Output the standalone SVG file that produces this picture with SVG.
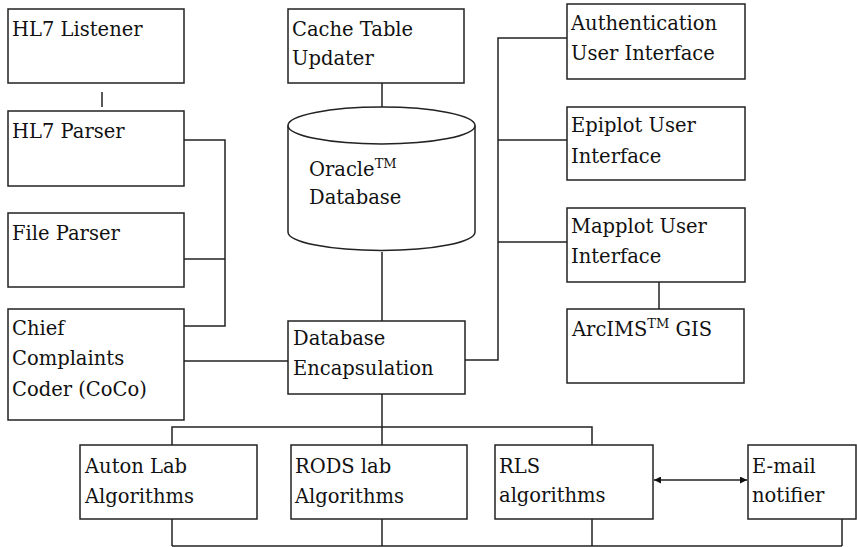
<svg xmlns="http://www.w3.org/2000/svg" width="857" height="547" viewBox="0 0 857 547">
<defs>
<style>
.box{fill:#fff;stroke:#222;stroke-width:1.5}
.ln{fill:none;stroke:#222;stroke-width:1.5}
.t text{font-family:'DejaVu Serif',serif;font-size:19.5px;fill:#111}
</style>
<marker id="ah" viewBox="0 0 10 10" refX="10" refY="5" markerWidth="7" markerHeight="7" markerUnits="userSpaceOnUse" orient="auto-start-reverse">
<path d="M0,0 L10,5 L0,10 z" fill="#111"/>
</marker>
</defs>
<rect width="857" height="547" fill="#fff"/>
<g id="connectors">
<line class="ln" x1="102" y1="92" x2="102" y2="107"/>
<polyline class="ln" points="184,140 225,140 225,326 184,326"/>
<line class="ln" x1="184" y1="259" x2="225" y2="259"/>
<line class="ln" x1="184" y1="361" x2="288" y2="361"/>
<line class="ln" x1="382" y1="83" x2="382" y2="107"/>
<line class="ln" x1="382" y1="252" x2="382" y2="321"/>
<polyline class="ln" points="465,360 498,360 498,38 567,38"/>
<line class="ln" x1="498" y1="140" x2="567" y2="140"/>
<line class="ln" x1="498" y1="242" x2="567" y2="242"/>
<line class="ln" x1="659" y1="282" x2="659" y2="309"/>
<line class="ln" x1="382" y1="394" x2="382" y2="445"/>
<polyline class="ln" points="172,445 172,427 592,427 592,445"/>
<line class="ln" x1="172" y1="546" x2="842" y2="546"/>
<line class="ln" x1="172" y1="519" x2="172" y2="546"/>
<line class="ln" x1="382" y1="519" x2="382" y2="546"/>
<line class="ln" x1="592" y1="519" x2="592" y2="546"/>
<line class="ln" x1="842" y1="519" x2="842" y2="546"/>
<line class="ln" x1="654" y1="480" x2="747" y2="480" marker-start="url(#ah)" marker-end="url(#ah)"/>
</g>
<g class="t">
<g id="hl7-listener"><rect class="box" x="8" y="9" width="176" height="74"/><text x="12" y="36">HL7 Listener</text></g>
<g id="hl7-parser"><rect class="box" x="8" y="111" width="176" height="75"/><text x="12" y="138">HL7 Parser</text></g>
<g id="file-parser"><rect class="box" x="8" y="213" width="176" height="74"/><text x="12" y="240">File Parser</text></g>
<g id="coco"><rect class="box" x="8" y="309" width="176" height="111"/><text x="12" y="335">Chief</text><text x="12" y="365">Complaints</text><text x="12" y="396">Coder (CoCo)</text></g>
<g id="cache-updater"><rect class="box" x="288" y="9" width="176" height="74"/><text x="292" y="36">Cache Table</text><text x="292" y="65">Updater</text></g>
<g id="oracle-db">
<path class="box" d="M288,125.5 L288,232 A93.5,18.5 0 0 0 475,232 L475,125.5"/>
<ellipse class="box" cx="381.5" cy="125.5" rx="93.5" ry="18.5"/>
<text x="309" y="176">Oracle<tspan font-size="13" dy="-8">TM</tspan></text>
<text x="309" y="204">Database</text>
</g>
<g id="db-encapsulation"><rect class="box" x="288" y="321" width="177" height="73"/><text x="293" y="345">Database</text><text x="293" y="375">Encapsulation</text></g>
<g id="auth-ui"><rect class="box" x="567" y="4" width="178" height="75"/><text x="571" y="30">Authentication</text><text x="571" y="60">User Interface</text></g>
<g id="epiplot-ui"><rect class="box" x="567" y="107" width="178" height="73"/><text x="571" y="132">Epiplot User</text><text x="571" y="163">Interface</text></g>
<g id="mapplot-ui"><rect class="box" x="567" y="208" width="178" height="74"/><text x="571" y="233">Mapplot User</text><text x="571" y="263">Interface</text></g>
<g id="arcims"><rect class="box" x="567" y="309" width="177" height="74"/><text x="572" y="336">ArcIMS<tspan font-size="13" dy="-8">TM</tspan><tspan dy="8"> GIS</tspan></text></g>
<g id="auton"><rect class="box" x="80" y="445" width="177" height="74"/><text x="85" y="473">Auton Lab</text><text x="85" y="503">Algorithms</text></g>
<g id="rods"><rect class="box" x="291" y="445" width="176" height="74"/><text x="295" y="473">RODS lab</text><text x="295" y="503">Algorithms</text></g>
<g id="rls"><rect class="box" x="495" y="445" width="158" height="74"/><text x="499" y="473">RLS</text><text x="499" y="502">algorithms</text></g>
<g id="email"><rect class="box" x="748" y="445" width="108" height="74"/><text x="752" y="473">E-mail</text><text x="752" y="502">notifier</text></g>
</g>
</svg>
